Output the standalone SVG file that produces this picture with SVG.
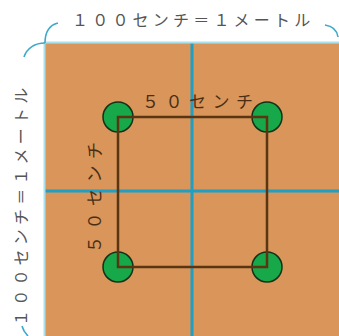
<svg xmlns="http://www.w3.org/2000/svg" width="339" height="336" viewBox="0 0 339 336">
<style>
.lbl{font-family:"Noto Sans CJK JP","Liberation Sans",sans-serif;font-size:16px;fill:#555555;letter-spacing:4.2px}
.in{font-family:"Noto Sans CJK JP","Liberation Sans",sans-serif;font-size:17px;fill:#4a2e14;letter-spacing:6.5px}
.brace{fill:none;stroke:#3ea9c9;stroke-width:1.6}
.edge{fill:none;stroke:#5a3512;stroke-width:2.5}
.pt{fill:#17a84a;stroke:#143018;stroke-width:1.5}
.grid{stroke:#1f9fc4;stroke-width:3}
</style>
<rect width="339" height="336" fill="#ffffff"/>
<g id="board">
<rect x="45" y="43" width="294" height="293" fill="#d9955a"/>
<line class="grid" x1="192" y1="43" x2="192" y2="336"/>
<line class="grid" x1="45" y1="191" x2="339" y2="191"/>
<line x1="44" y1="42.5" x2="339" y2="42.5" stroke="#a8e2ef" stroke-width="2"/>
<line x1="44.5" y1="42" x2="44.5" y2="336" stroke="#a8e2ef" stroke-width="2"/>
</g>
<g id="braces">
<path class="brace" d="M45,43 C45,32 50,25 58,23"/>
<path class="brace" d="M325,25 C332,26 337,30 338,37"/>
<path class="brace" d="M45,43 C35,43 27,48 24,57"/>
<path class="brace" d="M22,326 C23,330 25,333 28,336"/>
</g>
<g id="labels">
<text class="lbl" x="72" y="26">１００センチ＝１メートル</text>
<text class="lbl" transform="translate(27,326) rotate(-90)" x="0" y="0">１００センチ＝１メートル</text>
</g>
<g id="p1"><circle class="pt" cx="118" cy="117" r="15"/></g>
<g id="p2"><circle class="pt" cx="267" cy="117" r="15"/></g>
<g id="p3"><circle class="pt" cx="118" cy="267" r="15"/></g>
<g id="p4"><circle class="pt" cx="267" cy="267" r="15"/></g>
<g id="connectors">
<path class="edge" d="M118,117 H267 V267 H118 Z"/>
</g>
<g id="inner-labels">
<text class="in" x="142" y="108">５０センチ</text>
<text class="in" transform="translate(101,253) rotate(-90)" x="0" y="0">５０センチ</text>
</g>
</svg>
